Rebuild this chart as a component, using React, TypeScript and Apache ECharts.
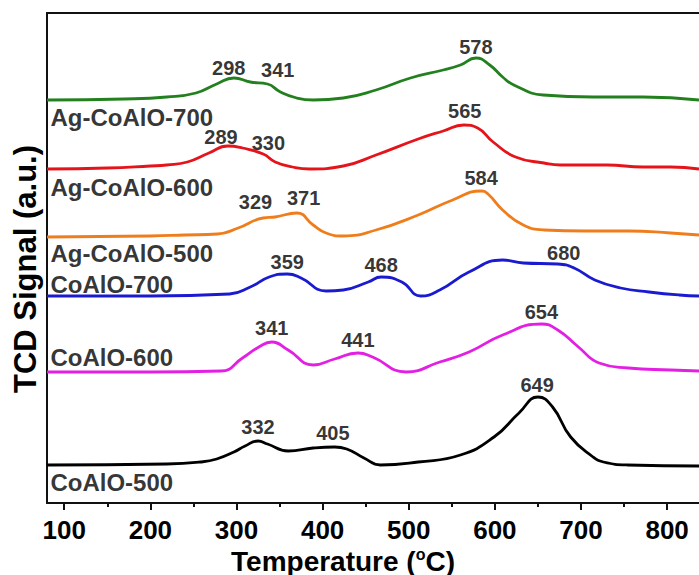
import React, { useEffect, useRef } from "react";
import * as echarts from "echarts";

// TPR profiles: [temperature (°C), TCD signal (a.u., stacked offset)]
const agCoAlO700: [number, number][] = [
  [80, 403], [170, 404], [219, 406], [253, 410], [277, 419], [297, 425], [316, 421],
  [336, 419], [351, 411], [370, 405], [389, 403], [424, 405], [462, 413], [502, 425],
  [540, 433], [560, 438], [578, 445], [594, 438], [609, 426], [622, 418], [656, 408],
  [714, 406], [772, 406], [837, 403],
];
const agCoAlO600: [number, number][] = [
  [80, 334], [150, 335], [200, 337], [219, 338], [243, 341], [268, 350], [290, 357],
  [307, 355], [331, 349], [345, 341], [365, 336], [385, 334], [424, 337], [462, 348],
  [511, 364], [540, 372], [564, 378], [580, 375], [598, 361], [624, 346], [657, 340],
  [676, 338], [730, 338], [772, 336], [804, 336], [837, 334],
];
const agCoAlO500: [number, number][] = [
  [80, 266], [200, 267], [240, 268], [278, 269], [302, 275], [331, 285], [345, 286],
  [370, 290], [389, 278], [404, 270], [424, 267], [462, 273], [511, 288], [551, 303],
  [584, 312], [592, 309], [609, 293], [633, 278], [657, 273], [706, 272], [755, 272],
  [804, 270], [837, 268],
];
const coAlO700: [number, number][] = [
  [80, 207], [200, 207], [292, 209], [316, 216], [338, 226], [359, 229], [375, 225],
  [404, 212], [424, 213], [453, 221], [468, 226], [492, 221], [514, 207], [536, 213],
  [570, 231], [609, 243], [633, 240], [673, 239], [692, 235], [716, 223], [746, 215],
  [779, 211], [814, 208], [837, 207],
];
const coAlO600: [number, number][] = [
  [80, 131], [200, 131], [282, 132], [307, 145], [326, 156], [341, 161], [360, 153],
  [389, 138], [414, 144], [441, 150], [458, 146], [497, 131], [536, 141], [570, 151],
  [609, 168], [654, 179], [673, 173], [697, 156], [721, 140], [755, 135], [804, 133],
  [837, 132],
];
const coAlO500: [number, number][] = [
  [80, 38], [219, 39], [258, 41], [277, 44], [297, 51], [310, 57], [325, 62], [336, 59],
  [360, 52], [389, 55], [414, 56], [428, 54], [448, 45], [467, 38], [511, 41], [560, 48],
  [599, 66], [628, 90], [650, 106], [667, 96], [688, 66], [714, 46], [726, 41], [754, 38],
  [837, 37],
];

const sampleNames = ["Ag-CoAlO-700", "Ag-CoAlO-600", "Ag-CoAlO-500", "CoAlO-700", "CoAlO-600", "CoAlO-500"];
const sampleCurves = [agCoAlO700, agCoAlO600, agCoAlO500, coAlO700, coAlO600, coAlO500];
// vertical level of each sample's name label (a.u.)
const nameLevels = [386, 316, 250, 219, 146, 21];

// reduction peak temperatures (°C) and the level (a.u.) where each is annotated
const peakTemps = [
  [298, 341, 578],
  [289, 330, 565],
  [329, 371, 584],
  [359, 468, 680],
  [341, 441, 654],
  [332, 405, 649],
];
const peakLevels = [
  [435, 433, 456],
  [366, 360, 392],
  [301, 305, 325],
  [241, 238, 250],
  [175, 163, 191],
  [76, 70, 118],
];

const majorTicks = [100, 200, 300, 400, 500, 600, 700, 800];
const minorTicks = [150, 250, 350, 450, 550, 650, 750];

const COLORS = ["#23801f", "#e5141b", "#f07d1c", "#1a1ad0", "#e21fe2", "#000000"];
const FONT = "'Liberation Sans', Arial, sans-serif";
const X_MIN = 80;
const X_MAX = 837;
// peaks closer than this (°C) get their labels nudged apart
const CLOSE_PEAKS = 80;

export default function App() {
  const ref = useRef<HTMLDivElement>(null);

  useEffect(() => {
    if (!ref.current) return;
    const chart = echarts.init(ref.current, undefined, { renderer: "svg" });

    const curveSeries = sampleCurves.map((data, i) => ({
      type: "line",
      name: sampleNames[i],
      data,
      xAxisIndex: 0,
      smooth: 0.5,
      symbol: "none",
      silent: true,
      lineStyle: { color: COLORS[i], width: 2.8 },
      z: 3,
    }));

    const peakData: any[] = [];
    peakTemps.forEach((row, i) =>
      row.forEach((t, j) => {
        let dx = 0;
        if (j === 0 && row[1] - t < CLOSE_PEAKS) dx = -6;
        if (j === 1 && t - row[0] < CLOSE_PEAKS) dx = 6;
        peakData.push({ value: [t, peakLevels[i][j]], label: { offset: [dx, 0] } });
      })
    );

    const option: any = {
      animation: false,
      backgroundColor: "#ffffff",
      grid: { left: 47, right: 0, top: 13, bottom: 72, show: false },
      xAxis: [
        {
          type: "value",
          min: X_MIN,
          max: X_MAX,
          position: "bottom",
          splitLine: { show: false },
          axisLine: { show: true, lineStyle: { color: "#111", width: 2 } },
          axisTick: {
            show: true,
            inside: false,
            length: 7,
            customValues: majorTicks,
            lineStyle: { color: "#111", width: 2 },
          },
          axisLabel: {
            show: true,
            customValues: majorTicks,
            margin: 15,
            lineHeight: 24,
            color: "#000",
            fontFamily: FONT,
            fontWeight: "bold",
            fontSize: 26,
          },
        },
        {
          type: "value",
          min: X_MIN,
          max: X_MAX,
          position: "bottom",
          splitLine: { show: false },
          axisLine: { show: false },
          axisTick: {
            show: true,
            inside: false,
            length: 4,
            customValues: minorTicks,
            lineStyle: { color: "#111", width: 2 },
          },
          axisLabel: { show: false },
        },
        {
          type: "value",
          min: X_MIN,
          max: X_MAX,
          position: "top",
          splitLine: { show: false },
          axisLine: { show: true, lineStyle: { color: "#111", width: 2 } },
          axisTick: { show: false },
          axisLabel: { show: false },
        },
      ],
      yAxis: {
        type: "value",
        min: 0,
        max: 490,
        splitLine: { show: false },
        axisLine: { show: true, lineStyle: { color: "#111", width: 2 } },
        axisTick: { show: false },
        axisLabel: { show: false },
      },
      graphic: [
        {
          type: "text",
          x: 343,
          y: 561,
          style: {
            text: "Temperature ({sup|o}C)",
            rich: {
              sup: { fontSize: 16, fontWeight: "bold", fontFamily: FONT, padding: [0, 0, 13, 0] },
            },
            fontFamily: FONT,
            fontWeight: "bold",
            fontSize: 28,
            lineHeight: 26,
            fill: "#000",
            align: "center",
            verticalAlign: "middle",
          },
        },
        {
          type: "text",
          x: 25,
          y: 269,
          rotation: Math.PI / 2,
          style: {
            text: "TCD Signal (a.u.)",
            fontFamily: FONT,
            fontWeight: "bold",
            fontSize: 31,
            fill: "#000",
            align: "center",
            verticalAlign: "middle",
          },
        },
      ],
      series: [
        ...curveSeries,
        {
          type: "scatter",
          name: "names",
          xAxisIndex: 0,
          silent: true,
          symbolSize: 0,
          data: nameLevels.map((v, i) => ({ value: [84, v], label: { formatter: sampleNames[i] } })),
          label: {
            show: true,
            position: "right",
            distance: 0,
            color: "#000",
            fontFamily: FONT,
            fontWeight: "bold",
            fontSize: 24,
          },
          z: 4,
        },
        {
          type: "scatter",
          name: "peaks",
          xAxisIndex: 0,
          silent: true,
          symbolSize: 0,
          data: peakData,
          label: {
            show: true,
            position: "inside",
            formatter: (p: any) => String(p.value[0]),
            color: "#000",
            fontFamily: FONT,
            fontWeight: "bold",
            fontSize: 20,
          },
          z: 4,
        },
      ],
    };

    chart.setOption(option);
    return () => chart.dispose();
  }, []);

  return (
    <div
      ref={ref}
      style={{ position: "fixed", left: 0, top: 0, width: 699, height: 575, background: "#fff" }}
    />
  );
}
